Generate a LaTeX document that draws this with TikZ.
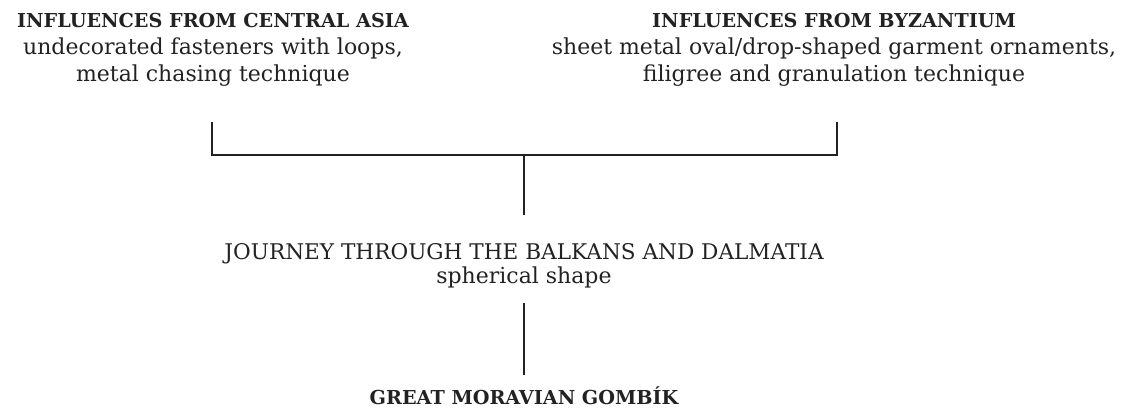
\documentclass[tikz,border=0pt]{standalone}
\usepackage{fontspec}
\setmainfont{DejaVu Serif}
\definecolor{ink}{HTML}{222222}
\newcommand{\headfont}{\fontsize{19.2}{27}\selectfont\bfseries}
\begin{document}
\begin{tikzpicture}[x=1pt,y=-1pt,
  txt/.style={inner sep=0pt,align=center,text=ink,font=\fontsize{22}{27}\selectfont},
  conn/.style={draw=ink,line width=1.8pt}]
\useasboundingbox (0,0) rectangle (1132,418);
\node[txt,anchor=north] (asia) at (213,13) {{\headfont INFLUENCES FROM CENTRAL ASIA}\\undecorated fasteners with loops,\\metal chasing technique};
\node[txt,anchor=north] (byz) at (834,13) {{\headfont INFLUENCES FROM BYZANTIUM}\\sheet metal oval/drop-shaped garment ornaments,\\filigree and granulation technique};
\node[txt,anchor=north,font=\fontsize{21.6}{24}\selectfont] (balk) at (524,243.5) {JOURNEY THROUGH THE BALKANS AND DALMATIA\\{\fontsize{22}{24}\selectfont spherical shape}};
\node[txt,anchor=base] (gomb) at (524,404) {{\headfont GREAT MORAVIAN GOMBÍK}};
\coordinate (lt) at (212,122);
\coordinate (rt) at (837,122);
\coordinate (lb) at (212,155);
\coordinate (rb) at (837,155);
\coordinate (mid) at (524,155);
\coordinate (midb) at (524,215);
\coordinate (lo1) at (524,303);
\coordinate (lo2) at (524,375);
\draw[conn] (lt) -- (lb) -- (rb) -- (rt);
\draw[conn] (mid) -- (midb);
\draw[conn] (lo1) -- (lo2);
\end{tikzpicture}
\end{document}
